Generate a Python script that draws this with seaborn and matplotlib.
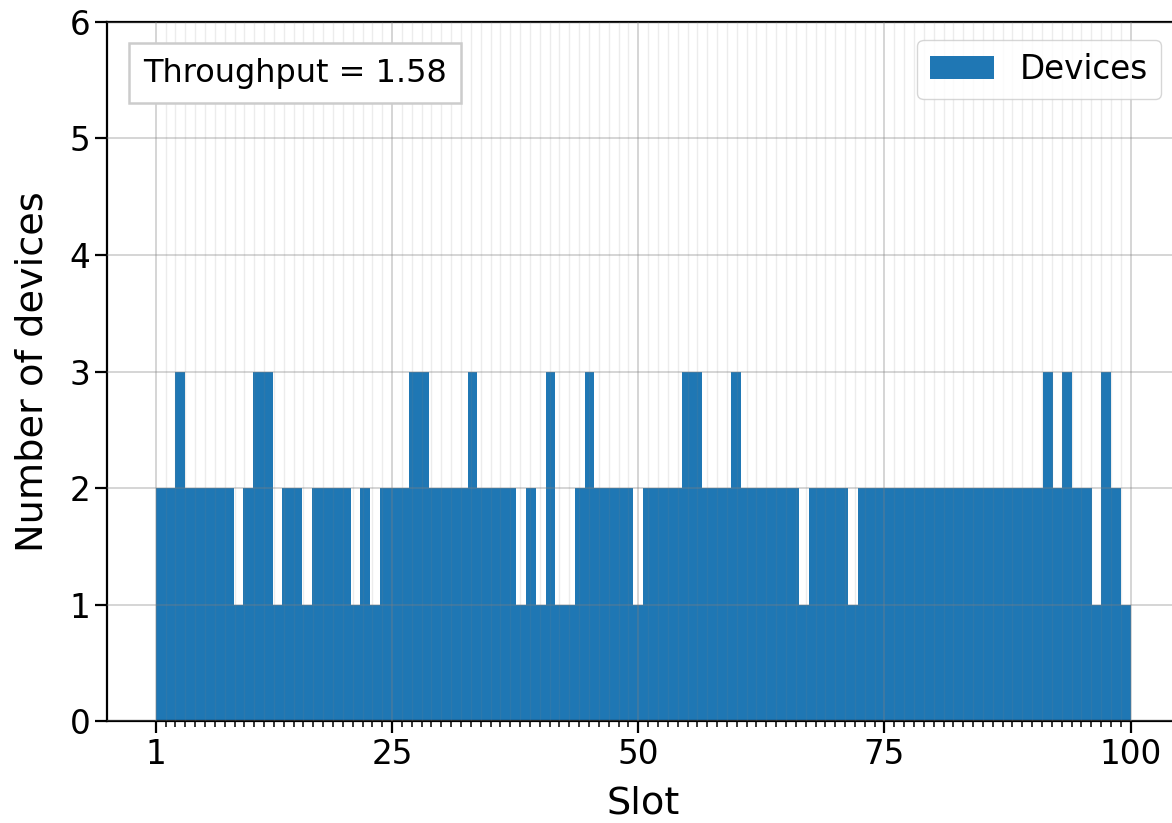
import numpy as np
import pandas as pd
import matplotlib
matplotlib.use("Agg")
import matplotlib.pyplot as plt
import seaborn as sns

# Number of devices transmitting in each of the 100 slots
slot_counts = [
    2, 2, 3, 2, 2, 2, 2, 2, 1, 2,
    3, 3, 1, 2, 2, 1, 2, 2, 2, 2,
    1, 2, 1, 2, 2, 2, 3, 3, 2, 2,
    2, 2, 3, 2, 2, 2, 2, 1, 2, 1,
    3, 1, 1, 2, 3, 2, 2, 2, 2, 1,
    2, 2, 2, 2, 3, 3, 2, 2, 2, 3,
    2, 2, 2, 2, 2, 2, 1, 2, 2, 2,
    2, 1, 2, 2, 2, 2, 2, 2, 2, 2,
    2, 2, 2, 2, 2, 2, 2, 2, 2, 2,
    2, 3, 2, 3, 2, 2, 1, 3, 2, 1,
]
first_slot, last_slot = 1, 100
x_major_ticks = [1, 25, 50, 75, 100]
y_ticks = [0, 1, 2, 3, 4, 5, 6]
throughput = 1.58
series_label = "Devices"

bar_color = "#1f77b4"

fig = plt.figure(figsize=(11.72, 8.23), dpi=100)
ax = fig.add_axes([0.0913, 0.1239, 0.915, 0.8494])

edges = np.linspace(first_slot, last_slot, len(slot_counts) + 1)
df = pd.DataFrame({
    "slot": (edges[:-1] + edges[1:]) / 2,
    "devices": slot_counts,
})

sns.histplot(
    data=df, x="slot", weights="devices", bins=edges.tolist(), ax=ax,
    color=bar_color, alpha=1.0, edgecolor=bar_color, linewidth=0,
    label=series_label,
)

ax.set_xlim(first_slot - 0.05 * (last_slot - first_slot),
            last_slot + 0.05 * (last_slot - first_slot))
ax.set_ylim(0, 6)
ax.set_xticks(x_major_ticks)
ax.set_xticks(np.arange(first_slot, last_slot + 1), minor=True)
ax.set_yticks(y_ticks)

ax.set_axisbelow(False)
ax.grid(which="major", axis="both", color="gray", alpha=0.35, linewidth=1.3)
ax.grid(which="minor", axis="x", color="gray", alpha=0.15, linewidth=1.0)

for side in ["left", "bottom", "top"]:
    ax.spines[side].set_linewidth(1.6)
    ax.spines[side].set_color("black")
ax.spines["right"].set_visible(False)

ax.tick_params(axis="both", which="major", labelsize=23.5, length=8.5, width=1.6)
ax.tick_params(axis="x", which="minor", length=4.5, width=1.1)
ax.tick_params(axis="y", which="minor", length=0)

ax.set_xlabel("Slot", fontsize=27.5, labelpad=11)
ax.set_ylabel("Number of devices", fontsize=27.5, labelpad=14)

ax.text(0.0335, 0.927, f"Throughput = {throughput}", transform=ax.transAxes,
        fontsize=23, ha="left", va="center",
        bbox=dict(boxstyle="square,pad=0.45", facecolor="white",
                  edgecolor="#cccccc", linewidth=1.8))

leg = ax.legend(loc="upper right", fontsize=23.5, framealpha=0.8,
                borderaxespad=0.55, handlelength=1.95, handletextpad=0.8)

fig.savefig("out.png", dpi=100)
